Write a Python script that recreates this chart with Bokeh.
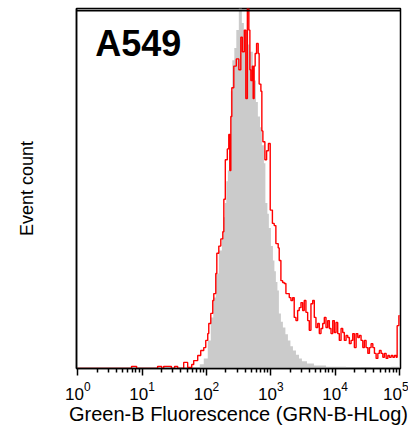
import numpy as np
from bokeh.plotting import figure
from bokeh.models import Range1d, FixedTicker, Label, Span
from bokeh.embed import file_html
from bokeh.resources import INLINE

# Channel positions in decades (log10 of fluorescence) and event counts (% of peak)
gray_log = [0.000, 1.802, 1.896, 1.958, 2.020, 2.067, 2.106, 2.145, 2.192, 2.239, 2.262,
            2.285, 2.308, 2.332, 2.355, 2.379, 2.402, 2.433, 2.464, 2.503, 2.550, 2.581,
            2.628, 2.675, 2.721, 2.769, 2.799, 2.832, 2.861, 2.893, 2.916, 2.947, 2.970,
            3.002, 3.033, 3.056, 3.079, 3.103, 3.126, 3.157, 3.188, 3.227, 3.266, 3.305,
            3.344, 3.391, 3.438, 3.484, 3.562, 3.671, 3.858, 4.170, 4.403, 4.559, 4.871, 5.003]
gray_count = [0, 0.3, 1.2, 2.8, 7.8, 14.2, 19.7, 26.4, 32.8, 36, 42,
              46, 52, 55, 64, 77, 85.6, 89, 94, 100, 96, 94,
              90, 88, 80, 74, 70, 67, 62, 57, 46, 43, 39,
              34, 30, 27, 24, 21.7, 15.3, 13, 11.4, 9.5, 7.8, 6.2,
              5, 3.8, 2.8, 2.0, 1.4, 0.8, 0.5, 0.3, 0.1, 0.4, 0.5, 0.5]

red_log = [0.000, 0.836, 0.914, 1.241, 1.304, 1.335, 1.455, 1.505, 1.552, 1.646, 1.708,
           1.771, 1.802, 1.864, 1.911, 1.958, 1.989, 2.020, 2.036, 2.067, 2.098, 2.114,
           2.145, 2.161, 2.192, 2.223, 2.254, 2.270, 2.293, 2.324, 2.347, 2.363, 2.379,
           2.394, 2.425, 2.464, 2.503, 2.534, 2.558, 2.589, 2.612, 2.636, 2.659, 2.675,
           2.690, 2.713, 2.726, 2.741, 2.757, 2.779, 2.804, 2.819, 2.846, 2.861, 2.877,
           2.908, 2.935, 2.963, 2.991, 3.025, 3.053, 3.079, 3.115, 3.131, 3.157, 3.184,
           3.209, 3.235, 3.287, 3.313, 3.340, 3.364, 3.391, 3.417, 3.442, 3.469, 3.495,
           3.520, 3.546, 3.573, 3.598, 3.624, 3.651, 3.676, 3.702, 3.729, 3.754, 3.780,
           3.807, 3.832, 3.858, 3.885, 3.910, 3.936, 3.963, 3.988, 4.014, 4.040, 4.065,
           4.092, 4.118, 4.143, 4.170, 4.196, 4.221, 4.248, 4.274, 4.299, 4.326, 4.352,
           4.377, 4.403, 4.430, 4.455, 4.481, 4.508, 4.533, 4.559, 4.586, 4.611, 4.637,
           4.664, 4.688, 4.715, 4.741, 4.766, 4.793, 4.819, 4.844, 4.871, 4.897, 4.922,
           4.949, 4.964, 4.991, 5.003]
red_count = [0, 0.6, 0, 0.6, 0, 0.6, 0, 0.6, 0, 1.7, 0.3,
             1.1, 2.2, 3.6, 5, 5.8, 7.8, 9.7, 12.5, 15.3, 18.9, 20.8,
             26.4, 32, 34, 36, 38, 47, 58, 61, 65, 55, 70,
             78, 84, 86, 83, 92, 88, 94, 75, 104, 94, 83,
             80, 84, 75, 84, 87.5, 90.3, 87.5, 79, 77, 66, 63,
             58, 60.5, 62.5, 44, 40.3, 39.7, 34.7, 33.5, 30, 24.4, 23.9,
             23.6, 20.8, 19.7, 18.9, 19.7, 14.2, 13.3, 16.1, 16.9, 18.3, 16.1,
             18.9, 15.6, 13.3, 10.6, 18, 18.9, 14.2, 11.4, 12.5, 9.7, 11.1,
             12.5, 14.2, 11.4, 13.3, 11.1, 9.7, 13.3, 10, 12.8, 9.7, 7.8,
             11.1, 10, 7.8, 9.2, 8.6, 6.9, 7.8, 9.7, 5.8, 9.7, 8.6,
             9.2, 7.8, 5.8, 7.8, 5.8, 4.2, 5.8, 6.9, 5.8, 4.2, 2.8,
             4.2, 5, 4.2, 3.1, 4.2, 2.8, 3.6, 3.1, 3.6, 3.1, 3.6,
             3.1, 11.9, 14.7, 14.7]

title_text = "A549"
x_label = "Green-B Fluorescence (GRN-B-HLog)"
y_label = "Event count"
decades = [0, 1, 2, 3, 4, 5]

gray_x = [10 ** v for v in gray_log]
red_x = [10 ** v for v in red_log]

p = figure(width=408, height=428, x_axis_type="log",
           x_range=Range1d(10 ** -0.02, 10 ** 5.016), y_range=Range1d(0, 100),
           output_backend="svg", toolbar_location=None,
           min_border_left=76, min_border_right=8, min_border_top=8, min_border_bottom=60)

p.varea_step(x=gray_x, y1=[0] * len(gray_x), y2=gray_count, step_mode="after",
             fill_color="#cbcbcb")
p.step(x=red_x, y=red_count, mode="after", line_color="#ff0000", line_width=1.4)

major = [10.0 ** d for d in decades]
minor = [m * 10.0 ** d for d in decades[:-1] for m in range(2, 10)]
p.xaxis.ticker = FixedTicker(ticks=major, minor_ticks=minor)
p.xaxis.major_tick_out = 7
p.xaxis.major_tick_in = 0
p.xaxis.minor_tick_out = 4
p.xaxis.minor_tick_in = 0
p.xaxis.major_tick_line_color = "black"
p.xaxis.minor_tick_line_color = "black"
p.xaxis.major_tick_line_width = 1.5
p.xaxis.minor_tick_line_width = 1.5
p.xaxis.axis_line_width = 1.5
p.xaxis.major_label_text_font = "Liberation Sans"
p.xaxis.major_label_text_font_size = "17px"
p.xaxis.major_label_text_color = "black"
p.xaxis.major_label_standoff = 6
p.xaxis.axis_label = x_label
p.xaxis.axis_label_text_font = "Liberation Sans"
p.xaxis.axis_label_text_font_size = "20px"
p.xaxis.axis_label_text_font_style = "normal"
p.xaxis.axis_label_text_color = "black"
p.xaxis.axis_label_standoff = 0

p.yaxis.ticker = FixedTicker(ticks=[])
p.yaxis.major_tick_line_color = None
p.yaxis.minor_tick_line_color = None
p.yaxis.major_label_text_font_size = "0px"
p.yaxis.axis_line_width = 1.5
p.yaxis.axis_label = y_label
p.yaxis.axis_label_text_font = "Liberation Sans"
p.yaxis.axis_label_text_font_size = "18px"
p.yaxis.axis_label_text_font_style = "normal"
p.yaxis.axis_label_text_color = "black"
p.yaxis.axis_label_standoff = 40

# top border of the frame
p.add_layout(Span(location=99.4, dimension="width", line_color="black", line_width=1.6))

p.xgrid.visible = False
p.ygrid.visible = False
p.outline_line_color = "black"
p.outline_line_width = 1.5
p.outline_line_alpha = 1.0

p.add_layout(Label(x=10 ** 0.27, y=90.3, text=title_text, text_baseline="alphabetic",
                   text_font="Liberation Sans", text_font_size="36px",
                   text_font_style="bold", text_color="black"))

open("out.html", "w").write(file_html(p, INLINE))
